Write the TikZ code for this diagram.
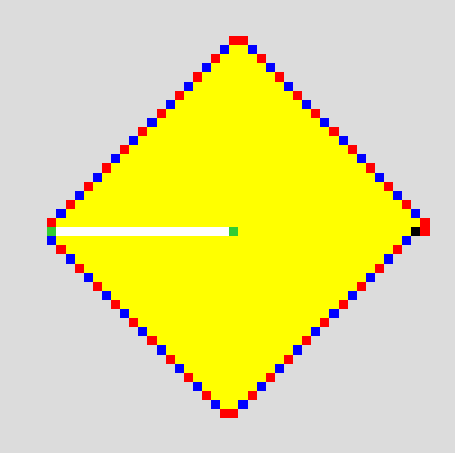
\documentclass[tikz,border=0pt]{standalone}
\definecolor{bggray}{RGB}{220,220,220}
\definecolor{cellred}{RGB}{255,0,0}
\definecolor{cellblue}{RGB}{0,0,255}
\definecolor{fillyellow}{RGB}{255,255,0}
\definecolor{headgreen}{RGB}{50,205,50}
\begin{document}
\begin{tikzpicture}[x=1pt,y=-1pt]
\def\s{9.1}
\def\xo{47.3}
\def\yo{36}
\tikzset{
  redcell/.style={fill=cellred},
  bluecell/.style={fill=cellblue},
  greencell/.style={fill=headgreen},
  blackcell/.style={fill=black},
  yellowrow/.style={fill=fillyellow},
  trail/.style={fill=white}
}
\newcommand\cellat[3]{\path[#1] ({\xo+\s*(#2)},{\yo+\s*(#3)}) rectangle ++(\s,\s);}
\useasboundingbox (0,0) rectangle (455,453);
\fill[bggray] (0,0) rectangle (455,453);
% yellow interior
\foreach \r in {1,...,20}{
  \path[yellowrow] ({\xo+\s*(21-\r)},{\yo+\s*\r}) rectangle ({\xo+\s*(21+\r)},{\yo+\s*(\r+1)});
}
\path[yellowrow] ({\xo+\s*1},{\yo+\s*21}) rectangle ({\xo+\s*40},{\yo+\s*22});
\foreach \r in {22,...,40}{
  \path[yellowrow] ({\xo+\s*(\r-21)},{\yo+\s*\r}) rectangle ({\xo+\s*(61-\r)},{\yo+\s*(\r+1)});
}
% white trail
\path[trail] ({\xo+\s*1},{\yo+\s*21}) rectangle ({\xo+\s*20},{\yo+\s*21+8.4});
% top cells
\cellat{redcell}{20}{0}
\cellat{redcell}{21}{0}
% upper border
\foreach \k in {1,3,...,19}{
  \cellat{bluecell}{20-\k}{\k}
  \cellat{bluecell}{21+\k}{\k}
}
\foreach \k in {2,4,...,20}{
  \cellat{redcell}{20-\k}{\k}
  \cellat{redcell}{21+\k}{\k}
}
% middle row
\cellat{greencell}{0}{21}
\cellat{greencell}{20}{21}
\cellat{blackcell}{40}{21}
\cellat{redcell}{41}{21}
% lower border
\foreach \r in {22,24,...,40}{
  \cellat{bluecell}{\r-22}{\r}
  \cellat{bluecell}{61-\r}{\r}
}
\foreach \r in {23,25,...,41}{
  \cellat{redcell}{\r-22}{\r}
  \cellat{redcell}{61-\r}{\r}
}
\end{tikzpicture}
\end{document}
